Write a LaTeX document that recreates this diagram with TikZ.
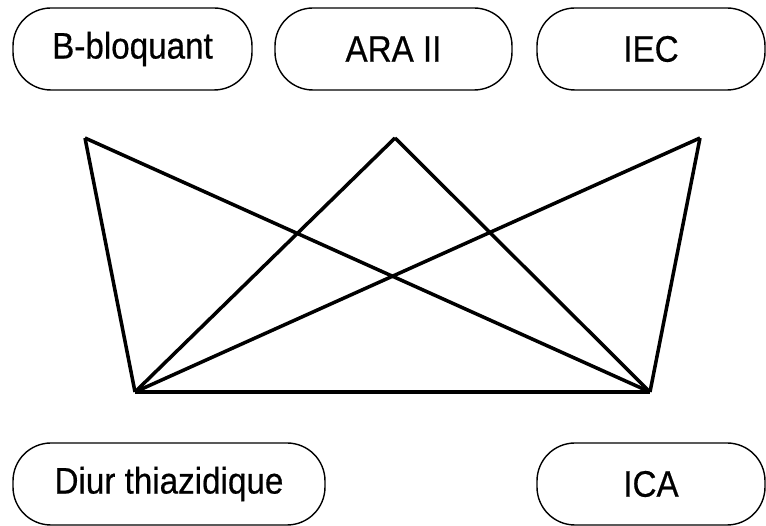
\documentclass[tikz,border=0pt]{standalone}
\usepackage{fontspec}
\setmainfont{Liberation Sans}[FakeStretch=0.9, FakeBold=0.5]
\begin{document}
\begin{tikzpicture}[
        drug/.style={rectangle, draw, rounded corners=0.76cm, line width=0.8pt, minimum height=1.64cm, font=\fontsize{21}{24}\selectfont},
        link/.style={line width=2pt, line join=miter}
    ]
        \useasboundingbox (0,0) rectangle (15.32,-10.52);

        % Drug classes
        \node[drug, minimum width=4.78cm] (bb) at (2.65,-0.98) {B-bloquant};
        \node[drug, minimum width=4.74cm] (ara) at (7.87,-0.98) {ARA II};
        \node[drug, minimum width=4.56cm] (iec) at (13.02,-0.98) {IEC};
        \node[drug, minimum width=6.24cm] (diur) at (3.38,-9.68) {Diur thiazidique};
        \node[drug, minimum width=4.56cm] (ica) at (13.02,-9.68) {ICA};

        % Corners of the association scheme
        \coordinate (tl) at (1.70,-2.76);
        \coordinate (tm) at (7.90,-2.76);
        \coordinate (tr) at (14.00,-2.76);
        \coordinate (bl) at (2.70,-7.84);
        \coordinate (br) at (13.00,-7.84);

        \draw[link] (tl) -- (bl);
        \draw[link] (tl) -- (br);
        \draw[link] (tm) -- (bl);
        \draw[link] (tm) -- (br);
        \draw[link] (tr) -- (bl);
        \draw[link] (tr) -- (br);
        \draw[link] (bl) -- (br);
    \end{tikzpicture}
\end{document}
